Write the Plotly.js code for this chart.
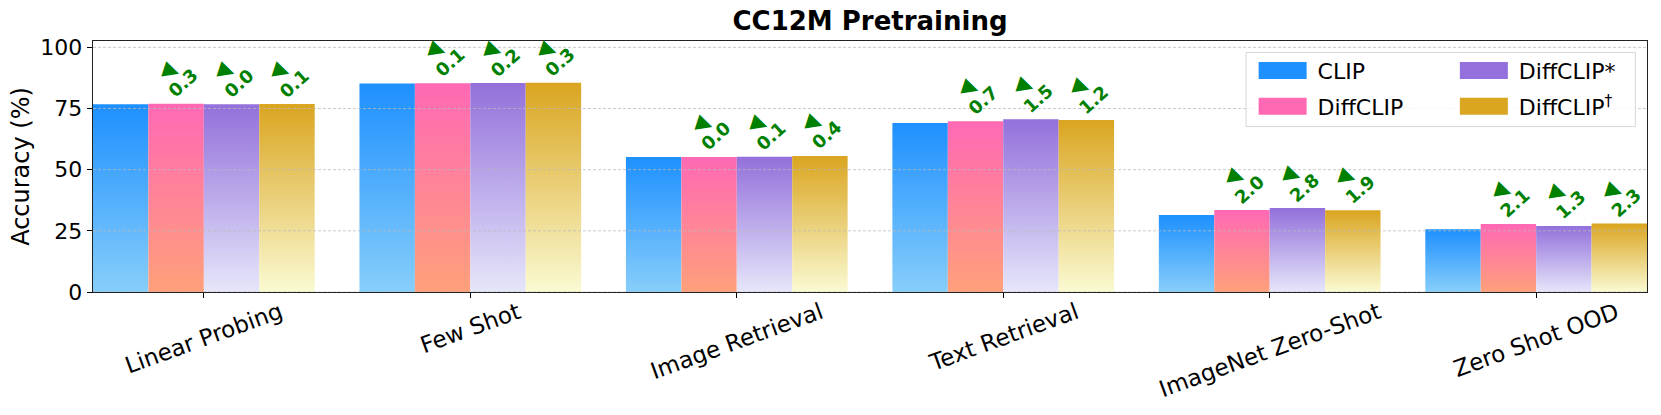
<!DOCTYPE html>
<html>
<head>
<meta charset="utf-8">
<script src="https://cdn.plot.ly/plotly-3.0.1.min.js"></script>
<style>
  html, body { margin: 0; padding: 0; background: #fff; }
  #chart { width: 1661px; height: 415px; }
</style>
</head>
<body>
<div id="chart"></div>
<script>
// CC12M pretraining accuracies
var categories = ["Linear Probing", "Few Shot", "Image Retrieval", "Text Retrieval", "ImageNet Zero-Shot", "Zero Shot OOD"]
var clipScores = [76.7, 85.2, 55.2, 69.1, 31.5, 25.7]
var diffclipScores = [77.0, 85.3, 55.2, 69.8, 33.5, 27.8]
var diffclipStarScores = [76.7, 85.4, 55.3, 70.6, 34.3, 27.0]
var diffclipDaggerScores = [76.8, 85.5, 55.6, 70.3, 33.4, 28.0]
var seriesNames = ["CLIP", "DiffCLIP", "DiffCLIP*", "DiffCLIP<sup>†</sup>"]
var yTicks = [0, 25, 50, 75, 100]

// top colour / bottom colour of each bar's fade
var topColors = ["#1E90FF", "#FF69B4", "#9370DB", "#DAA520"]
var bottomColors = ["#87CEFA", "#FFA07A", "#E6E6FA", "#FAFAD2"]
var legendIds = ["legend", "legend", "legend2", "legend2"]

var allScores = [clipScores, diffclipScores, diffclipStarScores, diffclipDaggerScores]
var bargap = 0.168
var barWidth = (1 - bargap) / 4
var font = "DejaVu Sans"

var traces = allScores.map(function (scores, i) {
  return {
    type: "bar",
    name: seriesNames[i],
    x: categories,
    y: scores,
    marker: { color: topColors[i], line: { width: 0 } },
    legend: legendIds[i],
    legendgroup: "g" + i,
    hoverinfo: "skip",
  }
})

var annotations = []

// improvement over CLIP above each DiffCLIP bar
for (var s = 1; s < allScores.length; s++) {
  for (var c = 0; c < categories.length; c++) {
    var xPos = c + (s - 1.5) * barWidth
    var delta = (allScores[s][c] - clipScores[c]).toFixed(1)
    annotations.push({
      x: xPos, y: allScores[s][c], xref: "x", yref: "y",
      text: "<b>" + delta + "</b>", showarrow: false, textangle: -42,
      xanchor: "center", yanchor: "middle", xshift: 7, yshift: 21,
      font: { family: font, size: 18, color: "#008000" },
    })
    annotations.push({
      x: xPos, y: allScores[s][c], xref: "x", yref: "y",
      text: "▶", showarrow: false, textangle: 18,
      xanchor: "center", yanchor: "middle", xshift: -4, yshift: 34,
      font: { family: font, size: 21, color: "#008000" },
    })
  }
}

// category labels, tilted and centred under each group
categories.forEach(function (cat, i) {
  annotations.push({
    x: i, y: 0, xref: "x", yref: "paper",
    text: cat, showarrow: false, textangle: -20,
    xanchor: "center", yanchor: "top", yshift: -3,
    font: { family: font, size: 23, color: "black" },
  })
})

// dashed grid drawn over the bars, like the original
var shapes = yTicks.map(function (v) {
  return {
    type: "line", xref: "paper", x0: 0, x1: 1, yref: "y", y0: v, y1: v,
    layer: "above", line: { color: "rgba(185,185,185,0.75)", width: 1, dash: "3px,2px" },
  }
})
// legend frame
shapes.push({
  type: "rect", xref: "paper", yref: "paper",
  x0: 0.742, x1: 0.9925, y0: 0.659, y1: 0.954,
  layer: "above", fillcolor: "rgba(255,255,255,0.85)",
  line: { color: "#d6d6d6", width: 1 },
})

var legendStyle = {
  bgcolor: "rgba(0,0,0,0)", borderwidth: 0,
  yanchor: "top", y: 0.965, xanchor: "left",
  font: { family: font, size: 22, color: "black" },
  itemwidth: 60, tracegroupgap: 4,
}

var layout = {
  width: 1661,
  height: 415,
  margin: { l: 93, r: 14, t: 41, b: 123 },
  paper_bgcolor: "white",
  plot_bgcolor: "white",
  font: { family: font, color: "black" },
  showlegend: true,
  barmode: "group",
  bargap: bargap,
  bargroupgap: 0,
  title: {
    text: "CC12M Pretraining",
    font: { family: font, size: 26, weight: "bold", color: "black" },
    x: 0.5, xref: "paper", y: 0.95, yref: "container", yanchor: "middle",
  },
  xaxis: {
    type: "category",
    range: [-0.416, categories.length - 1 + 0.416],
    showticklabels: false,
    ticks: "outside", ticklen: 5, tickcolor: "black",
    showline: true, linecolor: "#222", linewidth: 1.3, mirror: true,
    showgrid: false, zeroline: false,
  },
  yaxis: {
    range: [0, 102.6],
    tickvals: yTicks,
    ticks: "outside", ticklen: 5, tickcolor: "black",
    tickfont: { family: font, size: 22, color: "black" },
    showline: true, linecolor: "#222", linewidth: 1.3, mirror: true,
    showgrid: false, zeroline: false,
    title: { text: "Accuracy (%)", font: { family: font, size: 24, color: "black" }, standoff: 4 },
  },
  legend: Object.assign({}, legendStyle, { x: 0.743 }),
  legend2: Object.assign({}, legendStyle, { x: 0.8725 }),
  annotations: annotations,
  shapes: shapes,
}

function paintBars(gd) {
  var ns = "http://www.w3.org/2000/svg"
  var defs = gd.querySelector(".main-svg defs")
  topColors.forEach(function (c, i) {
    var id = "barfade" + i
    if (document.getElementById(id)) return
    var grad = document.createElementNS(ns, "linearGradient")
    grad.setAttribute("id", id)
    grad.setAttribute("x1", "0")
    grad.setAttribute("y1", "0")
    grad.setAttribute("x2", "0")
    grad.setAttribute("y2", "1")
    var a = document.createElementNS(ns, "stop")
    a.setAttribute("offset", "0")
    a.setAttribute("stop-color", c)
    var b = document.createElementNS(ns, "stop")
    b.setAttribute("offset", "1")
    b.setAttribute("stop-color", bottomColors[i])
    grad.appendChild(a)
    grad.appendChild(b)
    defs.appendChild(grad)
  })
  gd.querySelectorAll(".barlayer .trace").forEach(function (t, i) {
    t.querySelectorAll("path").forEach(function (p) {
      p.style.fill = "url(#barfade" + i + ")"
    })
  })
  // wide legend swatches
  gd.querySelectorAll(".legendpoints path").forEach(function (p) {
    p.setAttribute("d", "M-24,-8.5H24V8.5H-24Z")
  })
}

Plotly.newPlot("chart", traces, layout, { staticPlot: true }).then(paintBars)
</script>
</body>
</html>
